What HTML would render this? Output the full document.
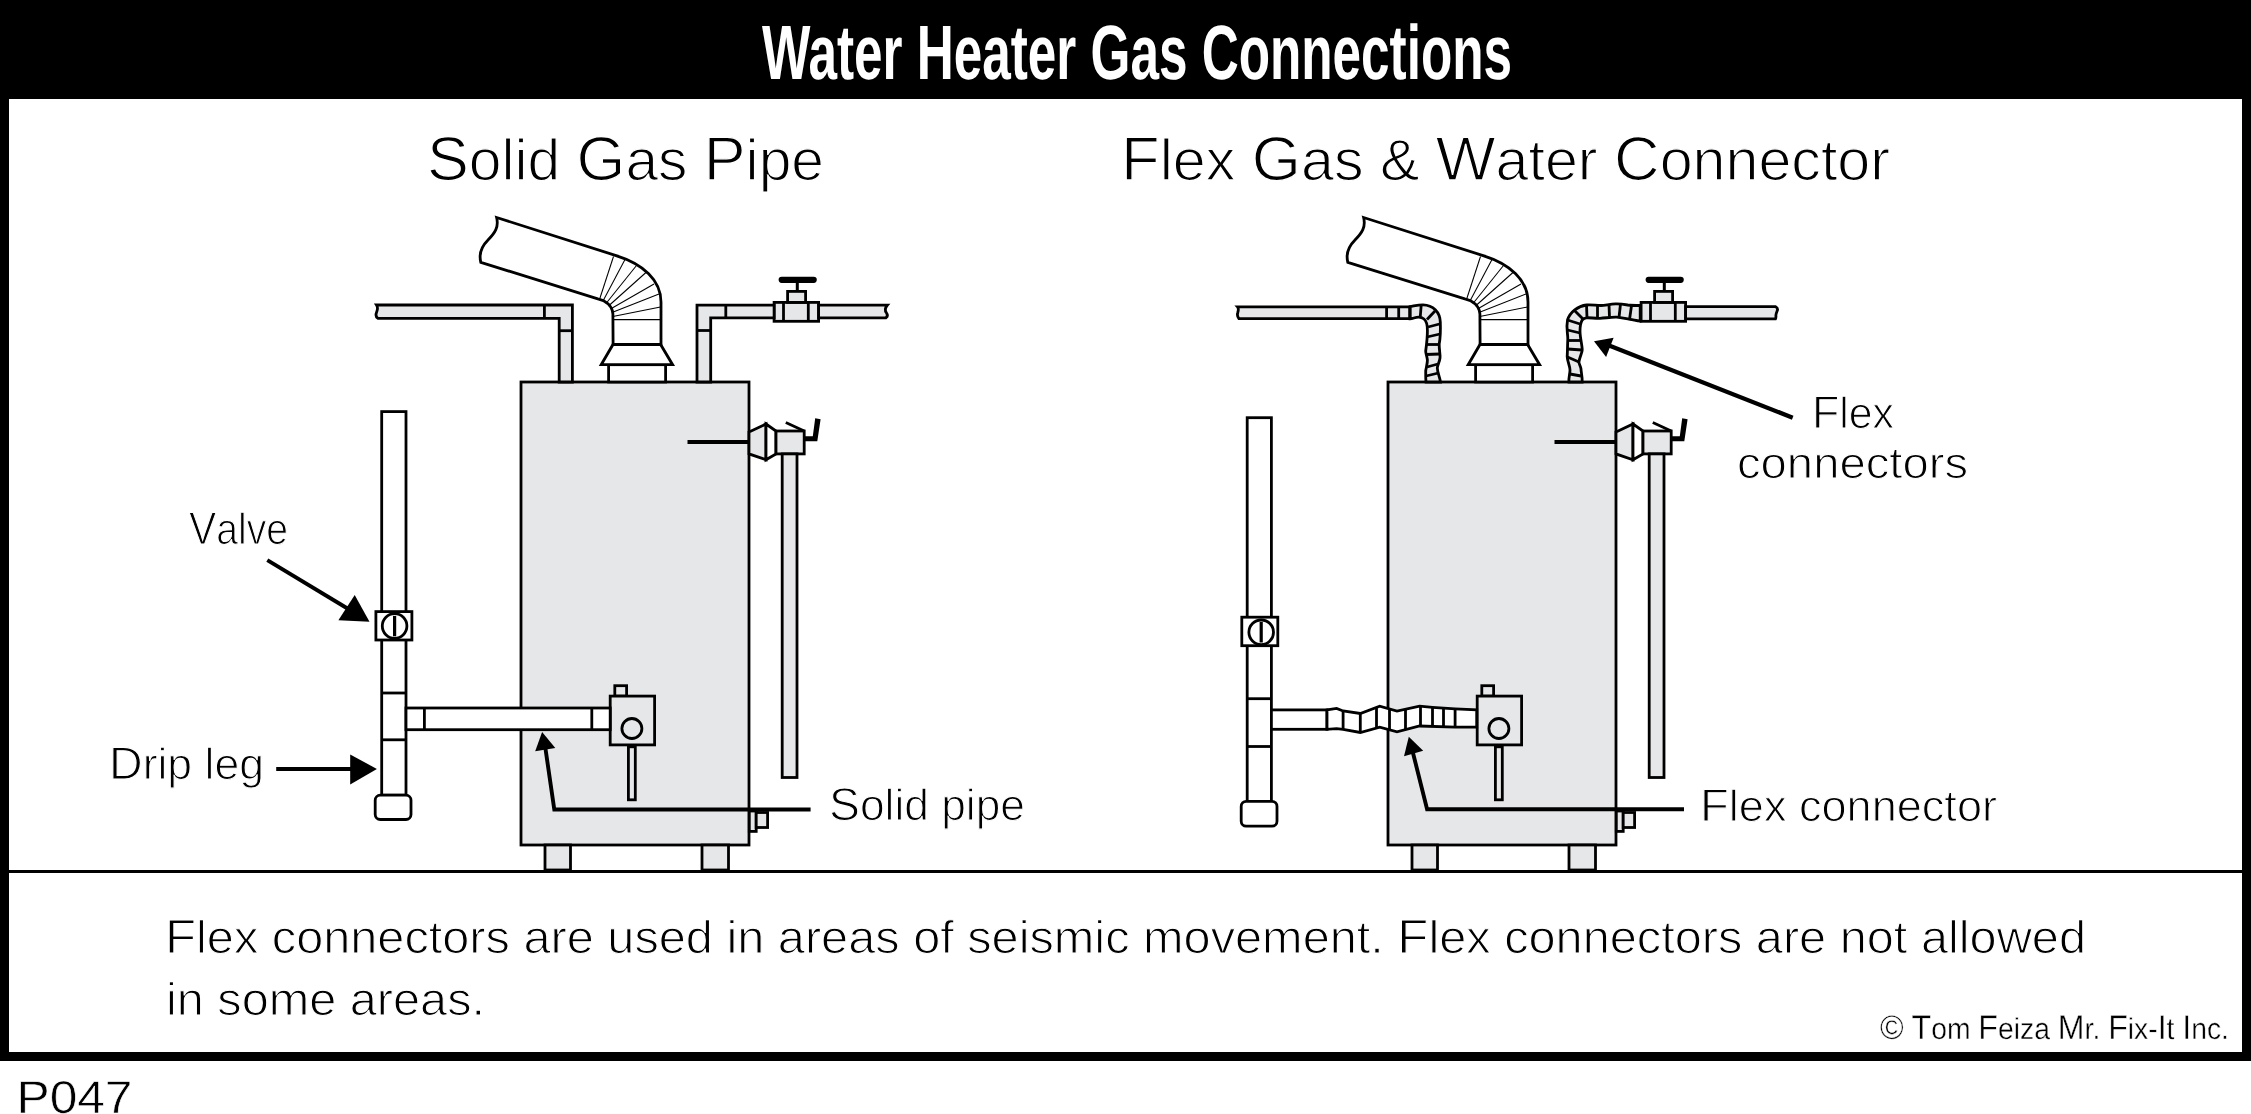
<!DOCTYPE html>
<html><head><meta charset="utf-8">
<style>
html,body{margin:0;padding:0;background:#fff;width:2251px;height:1114px;overflow:hidden}
svg{display:block;will-change:transform}
text{text-rendering:geometricPrecision}
.t{opacity:0.999;font-family:"Liberation Sans",sans-serif;fill:#000;stroke:#fff;stroke-width:1.6;paint-order:normal}
.s{stroke:#000;stroke-width:2.8;fill:#e6e7e8;stroke-linejoin:miter}
.w{stroke:#000;stroke-width:2.8;fill:#fff}
.l{stroke:#000;stroke-width:2.8;fill:none}
.th{stroke:#000;stroke-width:1.05;fill:none}
.ar{stroke:#000;stroke-width:3.9;fill:none}
</style></head>
<body>
<svg width="2251" height="1114" viewBox="0 0 2251 1114">
<!-- frame -->
<rect x="0" y="0" width="2251" height="1061" fill="#000"/>
<rect x="9" y="99" width="2233" height="953" fill="#fff"/>
<rect x="9" y="870" width="2233" height="3" fill="#000"/>
<text x="762" y="79" font-family="Liberation Sans" font-weight="bold" font-size="77" fill="#fff" textLength="750" lengthAdjust="spacingAndGlyphs">Water Heater Gas Connections</text>

<!-- subtitles -->
<text class="t" x="427" y="180" font-size="58" style="stroke-width:1.3" textLength="397" lengthAdjust="spacingAndGlyphs"><tspan font-size="62">S</tspan>olid <tspan font-size="62">G</tspan>as <tspan font-size="62">P</tspan>ipe</text>
<text class="t" x="1121" y="180" font-size="58" style="stroke-width:1.3" textLength="769" lengthAdjust="spacingAndGlyphs"><tspan font-size="62">F</tspan>lex <tspan font-size="62">G</tspan>as &amp; <tspan font-size="62">W</tspan>ater <tspan font-size="62">C</tspan>onnector</text>

<!-- caption -->
<text class="t" x="165" y="953" font-size="46" style="stroke-width:1.1" textLength="1921" lengthAdjust="spacingAndGlyphs"><tspan font-size="48">F</tspan>lex connectors are used in areas of seismic movement. <tspan font-size="48">F</tspan>lex connectors are not allowed</text>
<text class="t" x="166" y="1015" font-size="46" style="stroke-width:1.1" textLength="319" lengthAdjust="spacingAndGlyphs">in some areas.</text>
<text class="t" x="1880" y="1039" font-size="30" style="stroke-width:0.4" textLength="349" lengthAdjust="spacingAndGlyphs"><tspan font-size="34">©</tspan> <tspan font-size="34">T</tspan>om <tspan font-size="34">F</tspan>eiza <tspan font-size="34">M</tspan>r. <tspan font-size="34">F</tspan>ix-<tspan font-size="34">I</tspan>t <tspan font-size="34">I</tspan>nc.</text>
<text class="t" x="16.5" y="1113" font-size="46" style="stroke-width:0.6" textLength="116" lengthAdjust="spacingAndGlyphs">P047</text>

<!-- labels -->
<text class="t" x="189" y="544" font-size="44" style="stroke-width:1.1" textLength="99" lengthAdjust="spacingAndGlyphs"><tspan font-size="46">V</tspan>alve</text>
<text class="t" x="109" y="779" font-size="44" style="stroke-width:1.1" textLength="155" lengthAdjust="spacingAndGlyphs"><tspan font-size="46">D</tspan>rip leg</text>
<text class="t" x="829" y="820" font-size="44" style="stroke-width:1.1" textLength="196" lengthAdjust="spacingAndGlyphs"><tspan font-size="46">S</tspan>olid pipe</text>
<text class="t" x="1812" y="428" font-size="44" style="stroke-width:1.1" textLength="82" lengthAdjust="spacingAndGlyphs"><tspan font-size="46">F</tspan>lex</text>
<text class="t" x="1737" y="478" font-size="44" style="stroke-width:1.1" textLength="231" lengthAdjust="spacingAndGlyphs">connectors</text>
<text class="t" x="1700" y="821" font-size="44" style="stroke-width:1.1" textLength="297" lengthAdjust="spacingAndGlyphs"><tspan font-size="46">F</tspan>lex connector</text>

<!-- DIAGRAM -->
<defs>
<g id="heater">
  <!-- tank -->
  <rect class="s" x="521" y="382" width="228" height="463"/>
  <!-- legs -->
  <rect class="s" x="545" y="845" width="25.5" height="25"/>
  <rect class="s" x="702" y="845" width="26.5" height="25"/>
  <!-- flue collar -->
  <rect class="w" x="608.6" y="364.7" width="57" height="17.3"/>
  <polygon class="w" points="613,344.5 660.6,344.5 672.6,364.7 601.2,364.7"/>
  <!-- vent -->
  <path class="w" d="M613.1 344.5 L612.9 314 C612.5 306 606 300.5 597.8 298.8 L480.8 262.3 C479 255 481 247 488 240 C495 233 499 227 496.6 217.5 L616.1 255.6 C643 264 661 280 661 302 L661 344.5 Z"/>
  <g class="th">
    <line x1="599.5" y1="299.5" x2="613.5" y2="256.5"/>
    <line x1="603" y1="301" x2="625" y2="259.5"/>
    <line x1="606" y1="303.5" x2="636.5" y2="265.5"/>
    <line x1="608.5" y1="306" x2="646.5" y2="272"/>
    <line x1="610.5" y1="309" x2="654" y2="284"/>
    <line x1="612" y1="312.5" x2="659" y2="294"/>
    <line x1="612.8" y1="316.5" x2="660.5" y2="307"/>
    <line x1="613" y1="319.6" x2="661" y2="319.6"/>
  </g>
  <!-- T&P valve -->
  <line x1="687.5" y1="441.9" x2="749" y2="441.9" stroke="#000" stroke-width="4"/>
  <polygon class="s" points="749,431.9 766,424 766,459.7 749,453.9"/>
  <polygon class="w" points="766,424 776,431 776,453.9 766,459.7"/>
  <rect class="s" x="776" y="431" width="28.2" height="22.9"/>
  <line class="l" x1="785.8" y1="422.4" x2="804.2" y2="431"/>
  <polygon points="804.2,436.3 812.8,436.3 815.2,418.3 820.6,419.2 817.3,441.2 804.2,441.2" fill="#000"/>
  <rect class="s" x="782.2" y="453.9" width="14.8" height="323.6"/>
  <!-- gas control -->
  <rect class="s" x="614.8" y="685.7" width="11.8" height="10.4"/>
  <rect class="s" x="610.2" y="696.1" width="44.4" height="48.8"/>
  <circle class="s" cx="631.9" cy="728.5" r="10"/>
  <rect class="s" x="628.4" y="746.8" width="6.9" height="53"/>
  <!-- drain -->
  <rect class="s" x="749.3" y="811" width="6.9" height="20.4"/>
  <rect class="s" x="756.2" y="812.5" width="11.4" height="15"/>
  <!-- water valve -->
  <rect class="s" x="774.1" y="302.4" width="44.5" height="18.9"/>
  <line class="l" x1="783.5" y1="302.4" x2="783.5" y2="321.3"/>
  <line class="l" x1="808.3" y1="302.4" x2="808.3" y2="321.3"/>
  <rect class="s" x="787.6" y="291.4" width="18" height="11"/>
  <line x1="797.3" y1="281" x2="797.3" y2="291.4" stroke="#000" stroke-width="3"/>
  <line x1="781.7" y1="279.8" x2="813.7" y2="279.8" stroke="#000" stroke-width="6.2" stroke-linecap="round"/>
</g>
</defs>
<use href="#heater"/>
<use href="#heater" transform="translate(867,0)"/>

<!-- hot pipe right of valve L -->
<path class="s" d="M818.6 305.2 L887.4 305.2 C885 308 885 311 886.5 313 C888 315 887.5 316.5 886 317.8 L818.6 317.8 Z"/>
<!-- hot pipe right of valve R -->
<path class="s" d="M1685.6 306.7 L1775.5 306.7 C1777.5 308 1777.8 309.5 1777.3 310.5 C1776.5 312.5 1775.8 314 1775.9 315.5 C1776 317 1776 318 1775.5 318.9 L1685.6 318.9 Z"/>
<!-- LEFT specific -->
<path class="s" d="M376.5 305 L572.4 305 L572.4 382 L559.2 382 L559.2 318.4 L378 318.4 C376 317 375.5 315 376.5 312.5 C377.5 310 378.5 308 376.5 305 Z"/>
<line class="l" x1="544.4" y1="305" x2="544.4" y2="318.4"/>
<line class="l" x1="559.2" y1="330.7" x2="572.4" y2="330.7"/>
<path class="s" d="M697 382 L697 305.2 L774.1 305.2 L774.1 317.8 L710.7 317.8 L710.7 382 Z"/>
<line class="l" x1="725.8" y1="305.2" x2="725.8" y2="317.8"/>
<line class="l" x1="697" y1="330.5" x2="710.7" y2="330.5"/>
<!-- gas pipe -->
<rect class="w" x="381.7" y="411.6" width="24.3" height="383.6"/>
<line class="l" x1="381.7" y1="693" x2="406" y2="693"/>
<line class="l" x1="381.7" y1="739.8" x2="406" y2="739.8"/>
<rect class="w" x="375.9" y="611.6" width="36" height="28.4"/>
<circle class="w" cx="394.6" cy="626" r="12.3"/>
<line x1="394.6" y1="615.9" x2="394.6" y2="636.3" stroke="#000" stroke-width="3.2"/>
<rect class="w" x="375.2" y="795.2" width="35.8" height="24.3" rx="5"/>
<rect class="w" x="406" y="708" width="204.2" height="21.7"/>
<line class="l" x1="424.4" y1="708" x2="424.4" y2="729.7"/>
<line class="l" x1="591.8" y1="708" x2="591.8" y2="729.7"/>
<!-- left arrows -->
<line class="ar" x1="267.3" y1="560.2" x2="350" y2="610"/>
<polygon points="369.5,621.8 354.7,595.1 338.4,620.3" fill="#000"/>
<line class="ar" x1="276.2" y1="769" x2="355" y2="769"/>
<polygon points="376.9,769 350.2,754.4 350.2,784.6" fill="#000"/>
<polyline class="ar" points="810.6,809.5 554.3,809.5 544.5,742"/>
<polygon points="542.1,732.1 535.2,751.2 555.3,747.9" fill="#000"/>

<!-- RIGHT specific -->
<path class="s" d="M1237.5 306.8 L1410 306.8 L1410 318.7 L1239 318.7 C1237.5 317 1237 315 1237.8 312.5 C1238.5 310 1239 308.5 1237.5 306.8 Z"/>
<line class="l" x1="1386.6" y1="306.8" x2="1386.6" y2="318.7" stroke-width="3.5"/>
<line class="l" x1="1398.7" y1="306.8" x2="1398.7" y2="318.7"/>
<!-- cold flex -->
<path class="s" d="M1410 306.6 C1414 306 1418 304.8 1423 304.8 C1433 305 1440 312 1440.3 322 C1440.6 330 1440.5 337 1439.2 344 C1439 350 1440.5 355 1440 358 C1439.5 362 1437.5 365 1437.3 368 C1437.5 373 1440 378 1440.5 382 L1426 382 C1425.5 377 1425.8 373 1425.7 370.8 C1426.5 366 1427.5 363 1427.4 360 C1427 356 1425.5 353 1425.7 351 C1426.5 345 1427.5 337 1427.4 330.4 C1427.4 325 1426.5 321 1424 319 C1421 316.5 1417 317 1414 318 C1412 318.7 1411 318.9 1410 318.9 Z"/>
<g class="l">
  <line x1="1410" y1="306.6" x2="1410" y2="318.9"/>
  <line x1="1421.2" y1="304.8" x2="1420.3" y2="316.5"/>
  <line x1="1435" y1="311" x2="1427" y2="319.5"/>
  <line x1="1439.5" y1="324" x2="1428" y2="327"/>
  <line x1="1440" y1="334" x2="1427" y2="337"/>
  <line x1="1439.5" y1="344.5" x2="1426.5" y2="344.5"/>
  <line x1="1440" y1="354" x2="1426" y2="354.5"/>
  <line x1="1438" y1="364" x2="1427" y2="367"/>
  <line x1="1438.5" y1="373" x2="1426" y2="376"/>
</g>
<!-- hot flex -->
<path class="s" d="M1640.2 305.5 C1635 305.5 1630 305.3 1627.7 305 C1622 304 1618 303.8 1615.5 303.9 C1610 304 1605 305.5 1601 305.5 C1596 305.5 1591 304.5 1586.6 305 C1578 306 1570 312 1567.5 320 C1566 328 1567.8 333 1567.8 338.9 C1567.5 346 1567.5 351 1567.2 356.6 C1567.5 362 1570 366 1570 370 C1570 374 1568.5 378 1568.9 382 L1582.2 382 C1582.5 377 1581 372 1581 369 C1580.5 366 1579 364 1578.9 362.2 C1579.5 357 1582.2 353 1582.2 350 C1582.2 345 1580 338 1580 331 C1580 325 1581 322 1582.2 320 C1583.5 318.5 1585 317.8 1586.6 317.8 C1590 317.5 1595 318.5 1600 318.3 C1606 318 1611 317 1616.6 317.2 C1622 317.5 1626 319 1630 319.4 C1634 320 1637 321 1640.2 321.1 Z"/>
<g class="l">
  <line x1="1586.5" y1="304.8" x2="1587" y2="317.8"/>
  <line x1="1574" y1="310" x2="1583" y2="319"/>
  <line x1="1567.5" y1="320" x2="1580" y2="324"/>
  <line x1="1567.5" y1="330" x2="1580" y2="333"/>
  <line x1="1567.5" y1="340.5" x2="1581" y2="340.5"/>
  <line x1="1567.5" y1="349" x2="1582" y2="350"/>
  <line x1="1567.5" y1="357" x2="1579" y2="362"/>
  <line x1="1570" y1="374" x2="1581" y2="376"/>
  <line x1="1597.5" y1="305.5" x2="1597.5" y2="318.3"/>
  <line x1="1609" y1="304.5" x2="1609.5" y2="317.5"/>
  <line x1="1620.5" y1="304" x2="1619" y2="317.5"/>
  <line x1="1631.5" y1="305.8" x2="1629.5" y2="319.5"/>
</g>
<!-- right gas pipe -->
<rect class="w" x="1247.2" y="417.7" width="24.2" height="383.7"/>
<line class="l" x1="1247.2" y1="698.7" x2="1271.4" y2="698.7"/>
<line class="l" x1="1247.2" y1="746.5" x2="1271.4" y2="746.5"/>
<rect class="w" x="1241.8" y="617.2" width="36" height="28.5"/>
<circle class="w" cx="1261.2" cy="632.3" r="12.3"/>
<line x1="1261.2" y1="622" x2="1261.2" y2="642.5" stroke="#000" stroke-width="3.2"/>
<rect class="w" x="1241.2" y="801.4" width="35.8" height="24.8" rx="5"/>
<rect class="w" x="1271.4" y="709.9" width="55.6" height="19.4"/>
<path class="w" d="M1327 709.9 L1336.6 708.4 L1343.1 711 L1360.3 713.5 L1379.7 706.2 L1397 711 L1419.6 706.2 L1432.5 707.3 L1455.1 708.8 L1476.7 709.9 L1476.7 727.1 L1455.1 727.1 L1419.6 726 L1397 731.8 L1379.7 727.1 L1360.3 732.5 L1343.1 729.3 L1336.6 728.6 L1327 729.3 Z"/>
<g class="l">
  <line x1="1343.1" y1="711" x2="1343.1" y2="729.3"/>
  <line x1="1360.3" y1="713.5" x2="1360.3" y2="732.5"/>
  <line x1="1376.5" y1="707.5" x2="1376.5" y2="727.5"/>
  <line x1="1389.5" y1="709" x2="1389.5" y2="729.5"/>
  <line x1="1405.5" y1="709" x2="1405.5" y2="729.5"/>
  <line x1="1420.5" y1="706.2" x2="1420.5" y2="726"/>
  <line x1="1432.5" y1="707.3" x2="1432.5" y2="726.3"/>
  <line x1="1443.5" y1="708" x2="1443.5" y2="726.7"/>
  <line x1="1455.1" y1="708.8" x2="1455.1" y2="727.1"/>
</g>
<!-- right arrows -->
<line class="ar" style="stroke-width:4.3" x1="1792.7" y1="417.7" x2="1604" y2="343.5"/>
<polygon points="1594,341.2 1613.6,337.8 1606.1,357" fill="#000"/>
<polyline class="ar" points="1684,809.2 1427.1,809.2 1411,745"/>
<polygon points="1408.8,736.8 1404,756.2 1423.2,750.8" fill="#000"/>

</svg>
</body></html>
